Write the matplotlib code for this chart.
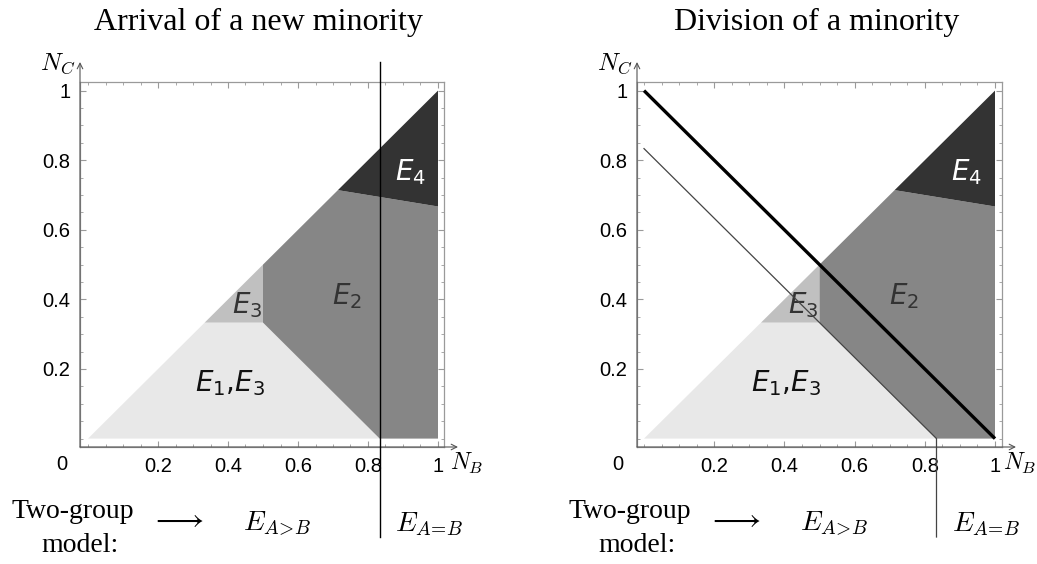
import matplotlib
matplotlib.use('Agg')
import matplotlib.pyplot as plt
from matplotlib.patches import Polygon
from matplotlib.ticker import MultipleLocator

# ---- data ----
titles = ["Arrival of a new minority", "Division of a minority"]
region_E1E3 = [(0.0, 0.0), (1/3, 1/3), (0.5, 1/3), (5/6, 0.0)]
region_E3 = [(1/3, 1/3), (0.5, 0.5), (0.5, 1/3)]
region_E2 = [(0.5, 1/3), (0.5, 0.5), (0.714, 0.714), (1.0, 0.667), (1.0, 0.0), (5/6, 0.0)]
region_E4 = [(0.714, 0.714), (1.0, 1.0), (1.0, 0.667)]
regions = [region_E1E3, region_E3, region_E2, region_E4]
region_colors = ['#e8e8e8', '#c0c0c0', '#868686', '#333333']
region_labels = [r'$E_1{,}E_3$', r'$E_3$', r'$E_2$', r'$E_4$']
label_pos = [(0.405, 0.16), (0.454, 0.384), (0.74, 0.41), (0.92, 0.766)]
label_colors = ['#111111', '#333333', '#333333', 'white']
threshold = 5/6            # two-group boundary N = 5/6
total_line_x = [0.0, 1.0]  # N_B + N_C = 1
total_line_y = [1.0, 0.0]
tick_values = [0.2, 0.4, 0.6, 0.8, 1.0]
tick_labels = ['0.2', '0.4', '0.6', '0.8', '1']

W, H = 1037, 564
fig = plt.figure(figsize=(W/100, H/100), dpi=100)
plt.rcParams['mathtext.fontset'] = 'dejavusans'

def fx(px): return px / W
def fy(py): return 1 - py / H

panels = [
    dict(left=80, right=444, x0px=88, xscale=350, cx=258, nb=467),
    dict(left=637, right=1002, x0px=644, xscale=351, cx=817, nb=1020),
]
top_px, bot_px = 82, 447
y0px, yscale = 438.6, 348.0

for i, p in enumerate(panels):
    ax = fig.add_axes([fx(p['left']), fy(bot_px), (p['right']-p['left'])/W, (bot_px-top_px)/H])
    xlo = (p['left'] - p['x0px']) / p['xscale']
    xhi = (p['right'] - p['x0px']) / p['xscale']
    ylo = (y0px - bot_px) / yscale
    yhi = (y0px - top_px) / yscale
    ax.set_xlim(xlo, xhi)
    ax.set_ylim(ylo, yhi)
    for reg, col in zip(regions, region_colors):
        ax.add_patch(Polygon(reg, closed=True, facecolor=col, edgecolor='none', zorder=1))
    for lab, pos, c in zip(region_labels, label_pos, label_colors):
        ax.text(pos[0], pos[1], lab, fontsize=20, color=c, ha='center', va='center', zorder=3)
    for s in ax.spines.values():
        s.set_color('#9a9a9a')
        s.set_linewidth(0.9)
    ax.set_xticks(tick_values)
    ax.set_xticklabels(tick_labels)
    ax.set_yticks(tick_values)
    ax.set_yticklabels(tick_labels)
    ax.xaxis.set_minor_locator(MultipleLocator(0.05))
    ax.yaxis.set_minor_locator(MultipleLocator(0.05))
    ax.tick_params(which='both', direction='in', colors='#9a9a9a', top=True, right=True,
                   labelcolor='black', labelsize=14.5)
    ax.tick_params(which='major', length=4, width=0.8, pad=7)
    ax.tick_params(which='minor', length=2, width=0.6)
    for t in ax.get_xticklabels() + ax.get_yticklabels():
        t.set_fontfamily('Liberation Sans')
    ax.text(-0.075, -0.075, '0', fontsize=14.5, family='Liberation Sans', ha='center', va='center')
    # axis arrows
    y_arrow_top = (y0px - 62) / yscale
    x_arrow_right = (p['right'] + 14 - p['x0px']) / p['xscale']
    ax.annotate('', xy=(xlo, y_arrow_top), xytext=(xlo, ylo),
                arrowprops=dict(arrowstyle='->', lw=0.8, color='#555555', shrinkA=0, shrinkB=0),
                annotation_clip=False)
    ax.annotate('', xy=(x_arrow_right, ylo), xytext=(xlo, ylo),
                arrowprops=dict(arrowstyle='->', lw=0.8, color='#555555', shrinkA=0, shrinkB=0),
                annotation_clip=False)
    ax.text(xlo - 0.065, y_arrow_top - 0.005, r'$N_C$', fontsize=18, ha='center', va='center',
            math_fontfamily='cm')
    fig.text(fx(p['nb']), fy(463), r'$N_B$', fontsize=17, ha='center', va='center',
             math_fontfamily='cm')
    y_bottom_ext = (y0px - 537) / yscale
    if i == 0:
        ax.plot([threshold, threshold], [y_bottom_ext, y_arrow_top], color='black', lw=1.0,
                clip_on=False, zorder=4)
    else:
        ax.plot(total_line_x, total_line_y, color='black', lw=2.4, zorder=5, solid_capstyle='butt')
        ax.plot([0.0, threshold, threshold], [threshold, 0.0, y_bottom_ext], color='#444444',
                lw=0.9, clip_on=False, zorder=4)
    fig.text(fx(p['cx']), fy(22), titles[i], fontsize=23, family='Liberation Serif',
             ha='center', va='center')

# bottom annotations
for off in [0, 557]:
    fig.text(fx(73 + off), fy(511), 'Two-group', fontsize=20, family='Liberation Serif',
             ha='center', va='center')
    fig.text(fx(80 + off), fy(546), 'model:', fontsize=20, family='Liberation Serif',
             ha='center', va='center')
    fig.text(fx(177 + off), fy(519), r'$\longrightarrow$', fontsize=22, ha='center', va='center',
             math_fontfamily='cm')
    fig.text(fx(277 + off), fy(524), r'$E_{A\!>\!B}$', fontsize=20, ha='center', va='center',
             math_fontfamily='cm')
    fig.text(fx(429 + off), fy(524), r'$E_{A\!=\!B}$', fontsize=20, ha='center', va='center',
             math_fontfamily='cm')

fig.savefig('out.png', dpi=100)
